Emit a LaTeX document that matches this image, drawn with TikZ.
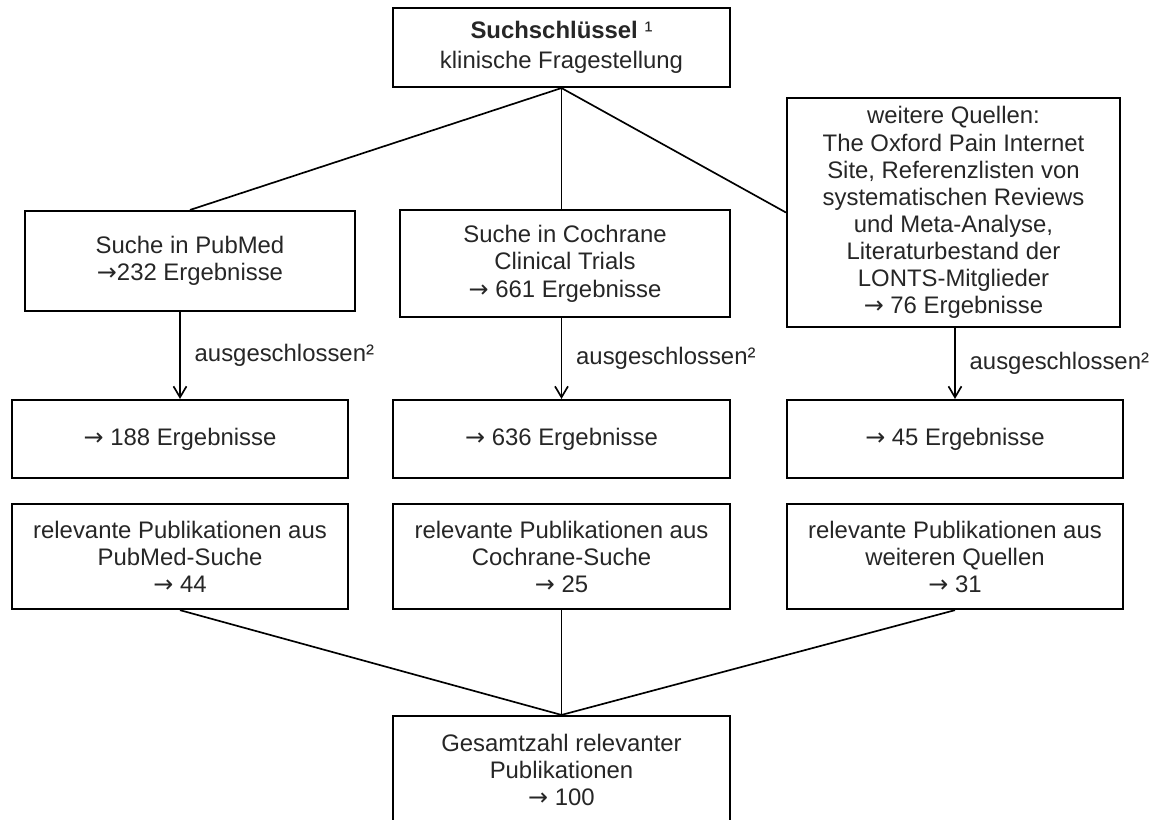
\documentclass[tikz,border=0pt]{standalone}
\usepackage{fontspec}
\setmainfont{Liberation Sans}
\newfontfamily\arrowfont{DejaVu Sans}
\newcommand\ra{{\arrowfont →}}
\usetikzlibrary{positioning, arrows.meta, calc}

\begin{document}
\begin{tikzpicture}[
  x=0.2mm, y=-0.2mm,
  font=\fontsize{13.6}{15.4}\selectfont,
  box/.style={draw, line width=1.2pt, align=center, inner sep=2pt, text=black!85},
  head/.style={box, minimum width=67.4mm},
  src/.style={box, minimum width=66mm},
  res/.style={box, minimum width=67.2mm, minimum height=15.6mm},
  rel/.style={box, minimum width=67.2mm, minimum height=21mm},
  conn/.style={line width=0.95pt},
  arr/.style={conn, -{Straight Barb[length=2.2mm, width=2.6mm]}},
  excl/.style={right=1.6mm, midway, text=black!85},
]
\useasboundingbox (0,0) rectangle (1151,820);

% --- search key ---
\node[head, minimum height=15.8mm, font=\fontsize{13.6}{17}\selectfont] (key) at (561.5,47.5)
  {\textbf{Suchschlüssel} ¹\\ klinische Fragestellung};

% --- sources ---
\node[src, minimum height=20mm] (pub) at (190,261)
  {Suche in PubMed\\ \ra232 Ergebnisse};
\node[src, minimum height=21.4mm, font=\fontsize{13.6}{15.6}\selectfont] (coch) at (565,263.5)
  {Suche in Cochrane\\ Clinical Trials\\ \ra{} 661 Ergebnisse};
\node[src, minimum width=66.6mm, minimum height=45.8mm] (more) at (953.5,212.5)
  {weitere Quellen:\\ The Oxford Pain Internet\\ Site, Referenzlisten von\\
   systematischen Reviews\\ und Meta-Analyse,\\ Literaturbestand der\\
   LONTS-Mitglieder\\ \ra{} 76 Ergebnisse};

% --- after exclusion ---
\node[res] (pubres) at (180,439) {\ra{} 188 Ergebnisse};
\node[res, minimum width=67.4mm] (cochres) at (561.5,439) {\ra{} 636 Ergebnisse};
\node[res] (moreres) at (955,439) {\ra{} 45 Ergebnisse};

% --- relevant publications ---
\node[rel, below=4.8mm of pubres] (pubrel)
  {relevante Publikationen aus\\ PubMed-Suche\\ \ra{} 44};
\node[rel, minimum width=67.4mm, below=4.8mm of cochres] (cochrel)
  {relevante Publikationen aus\\ Cochrane-Suche\\ \ra{} 25};
\node[rel, below=4.8mm of moreres] (morerel)
  {relevante Publikationen aus\\ weiteren Quellen\\ \ra{} 31};

% --- total ---
\node[head, minimum height=21.6mm, font=\fontsize{13.6}{15.6}\selectfont] (total) at (561.5,770)
  {Gesamtzahl relevanter\\ Publikationen\\ \ra{} 100};

% --- connectors ---
\draw[conn] (key.south) -- (pub.north);
\draw[conn] (key.south) -- (key.south |- coch.north);
\draw[conn] (key.south) -- (more.west);

\draw[arr] (pubres.north |- pub.south) -- node[excl] {ausgeschlossen²} (pubres.north);
\draw[arr] (cochres.north |- coch.south) -- node[excl] {ausgeschlossen²} (cochres.north);
\draw[arr] (moreres.north |- more.south) -- node[excl] {ausgeschlossen²} (moreres.north);

\draw[conn] (pubrel.south) -- (total.north);
\draw[conn] (cochrel.south) -- (total.north);
\draw[conn] (morerel.south) -- (total.north);

\end{tikzpicture}
\end{document}
